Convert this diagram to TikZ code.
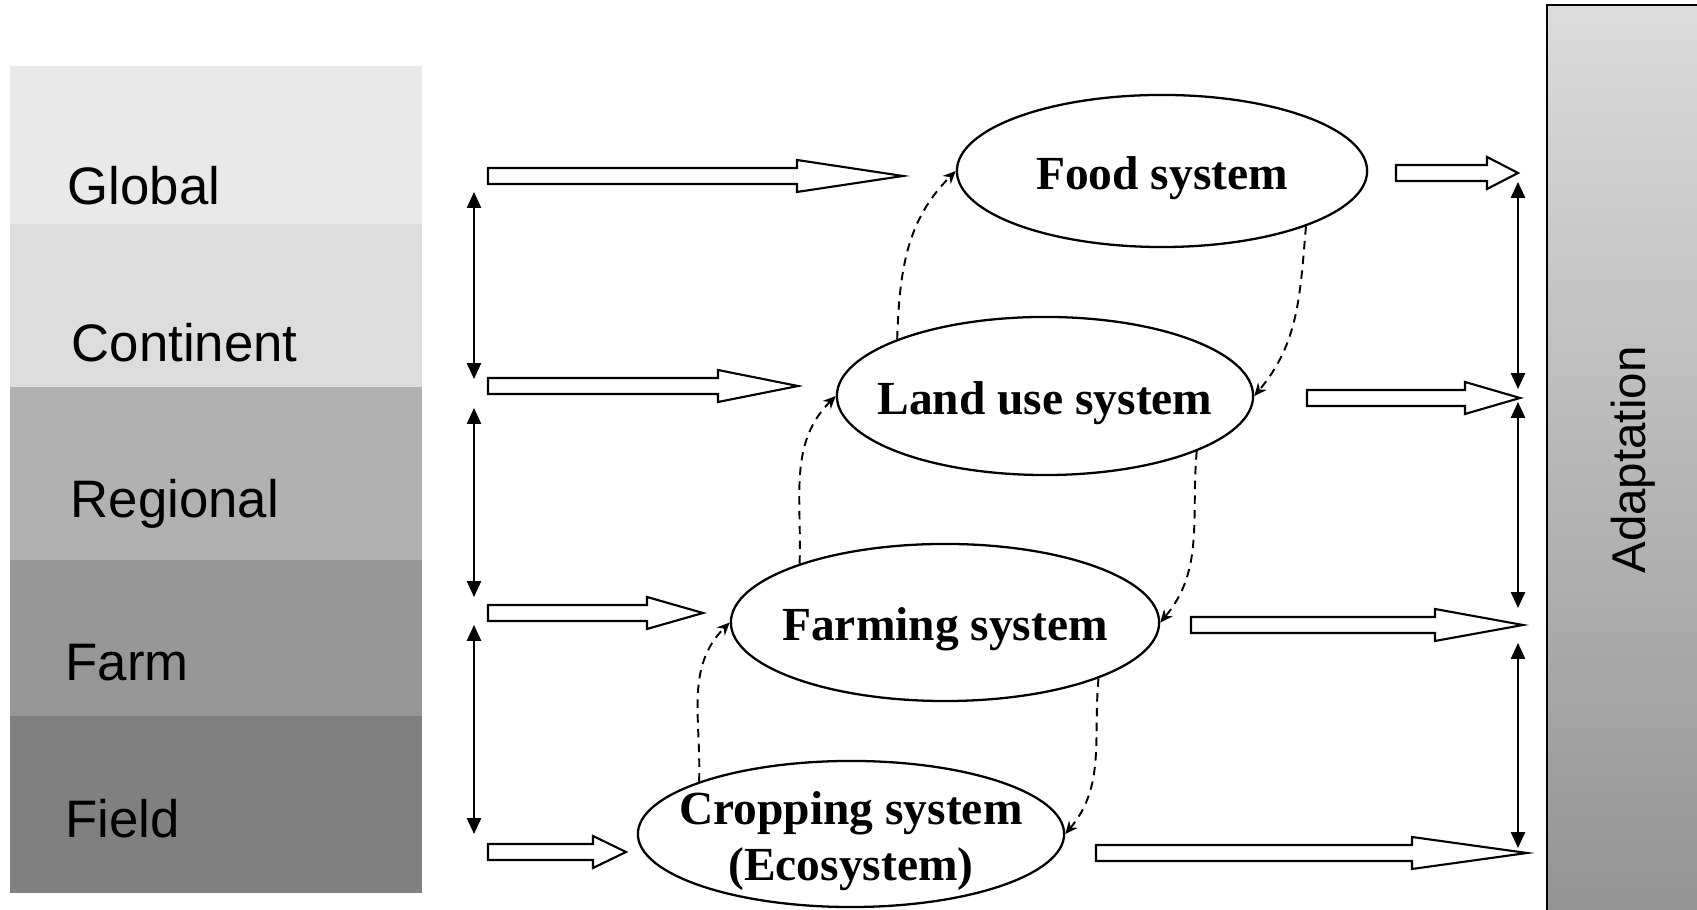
\documentclass[tikz,border=0pt]{standalone}
\usepackage{fontspec}
\setmainfont{Liberation Serif}
\setsansfont{Liberation Sans}
\usetikzlibrary{shapes.geometric,arrows.meta}
\definecolor{globalgray}{RGB}{233,233,233}
\definecolor{continentgray}{RGB}{221,221,221}
\definecolor{regionalgray}{RGB}{177,177,177}
\definecolor{farmgray}{RGB}{151,151,151}
\definecolor{fieldgray}{RGB}{128,128,128}
\definecolor{adapttop}{RGB}{220,220,220}
\definecolor{adaptbottom}{RGB}{148,148,148}

\newcommand{\hollowarrow}[4]{%
	\draw[hollow] (#1,#3+8) -- (#2-#4,#3+8) -- (#2-#4,#3+16) -- (#2,#3)
		-- (#2-#4,#3-16) -- (#2-#4,#3-8) -- (#1,#3-8) -- cycle;}

\begin{document}
\begin{tikzpicture}[x=0.01cm, y=0.01cm,
	system/.style={ellipse, draw, line width=0.65pt, inner sep=0pt},
	systemtext/.style={font=\fontsize{13.5}{16}\selectfont\bfseries, align=center, yshift=-0.07cm},
	level/.style={anchor=base west, inner sep=0pt, font=\sffamily\fontsize{15}{18}\selectfont},
	hollow/.style={draw, line width=0.6pt, fill=white, line join=miter},
	scalearrow/.style={{Triangle[length=4.5pt,width=4pt]}-{Triangle[length=4.5pt,width=4pt]}, line width=0.6pt},
	feedback/.style={-{Stealth[length=3.6pt,width=3.2pt]}, line width=0.55pt, dash pattern=on 2.4pt off 1.8pt}]
	\useasboundingbox (0,0) rectangle (1697,910);
	% scales
	\foreach \col/\ya/\yb in {globalgray/686/844, continentgray/523/686, regionalgray/350/523, farmgray/194/350, fieldgray/17/194}
		\fill[\col] (10,\ya) rectangle (422,\yb);
	\node[level] (global) at (67,705) {Global};
	\node[level] (continent) at (71,548) {Continent};
	\node[level] (regional) at (70,392) {Regional};
	\node[level] (farm) at (65,229) {Farm};
	\node[level] (field) at (65,72) {Field};
	% adaptation
	\shade[top color=adapttop, bottom color=adaptbottom] (1547,0) rectangle (1697,905);
	\draw[line width=0.6pt] (1547,0) -- (1547,905) -- (1697,905);
	\node[rotate=90, anchor=base, inner sep=0pt, font=\sffamily\fontsize{13.5}{16}\selectfont] (adaptation) at (1645,450) {Adaptation};
	% systems
	\node[system, minimum width=4.1cm, minimum height=1.52cm, label={[systemtext]center:Food system}] (food) at (1162,739) {};
	\node[system, minimum width=4.16cm, minimum height=1.58cm, label={[systemtext]center:Land use system}] (land) at (1045,514) {};
	\node[system, minimum width=4.28cm, minimum height=1.57cm, label={[systemtext]center:Farming system}] (farming) at (945,287.5) {};
	\node[system, minimum width=4.26cm, minimum height=1.46cm, label={[systemtext]center:Cropping system\\(Ecosystem)}] (cropping) at (851,76) {};
	\draw[feedback] (land.159) to[out=88,in=225] (food.west);
	\draw[feedback] (farming.158) to[out=88,in=225] (land.west);
	\draw[feedback] (cropping.161) to[out=88,in=225] (farming.west);
	\draw[feedback] (food.-21) to[out=-95,in=50] (land.east);
	\draw[feedback] (land.-20) to[out=-95,in=50] (farming.east);
	\draw[feedback] (farming.-20) to[out=-95,in=50] (cropping.east);
	% scale links
	\foreach \i/\ya/\yb in {1/718/531, 2/502/313, 3/285/76} {
		\coordinate (ltop\i) at (474,\ya);
		\coordinate (lbot\i) at (474,\yb);
		\draw[scalearrow] (ltop\i) -- (lbot\i);
	}
	\foreach \i/\ya/\yb in {1/728/521, 2/508/302, 3/267/62} {
		\coordinate (rtop\i) at (1518,\ya);
		\coordinate (rbot\i) at (1518,\yb);
		\draw[scalearrow] (rtop\i) -- (rbot\i);
	}
	\hollowarrow{488}{903}{734}{106}
	\hollowarrow{488}{798}{524}{80}
	\hollowarrow{488}{703}{297}{56}
	\hollowarrow{488}{626}{58}{33}
	\hollowarrow{1396}{1518}{737}{31}
	\hollowarrow{1307}{1520}{512}{55}
	\hollowarrow{1191}{1523}{285}{88}
	\hollowarrow{1096}{1527}{57}{115}
\end{tikzpicture}
\end{document}
